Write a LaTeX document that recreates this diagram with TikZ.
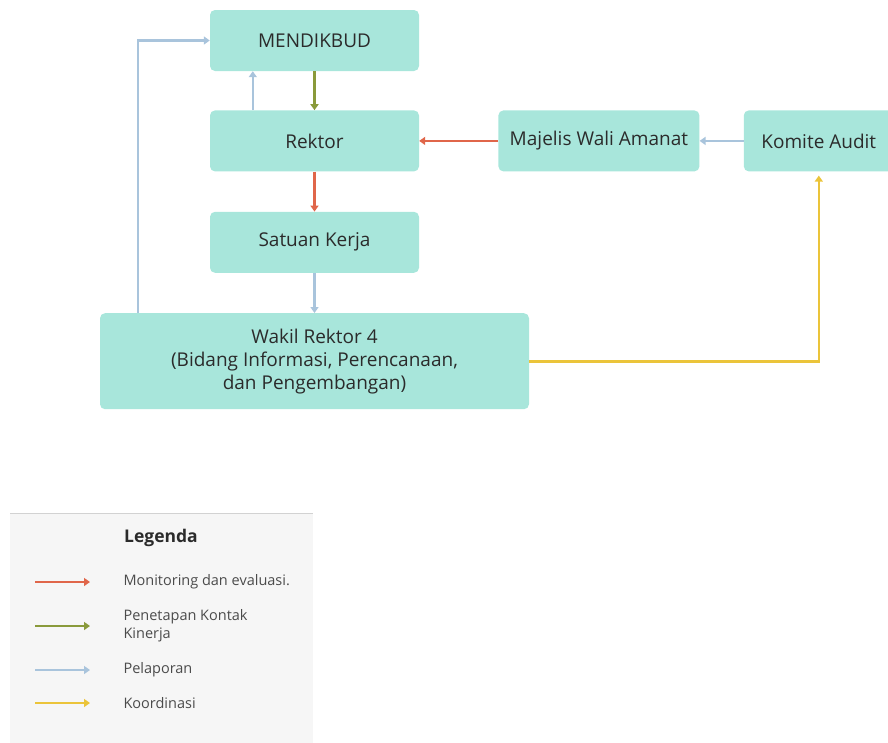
\documentclass[tikz,border=0pt]{standalone}
\usepackage{fontspec}
\setmainfont{Open Sans}
\usetikzlibrary{positioning, arrows.meta}
\definecolor{boxteal}{HTML}{A8E6DB}
\definecolor{txtdark}{HTML}{2B2B2B}
\definecolor{monev}{HTML}{E0664A}
\definecolor{kontrak}{HTML}{8A9A3B}
\definecolor{lapor}{HTML}{A9C4DC}
\definecolor{koord}{HTML}{EBC43A}

\begin{document}
\begin{tikzpicture}
		[x=1pt, y=-1pt,
		 unit/.style = {rectangle, rounded corners=5pt, fill=boxteal, text=txtdark, align=center,
		                minimum width=209pt, minimum height=61pt, font=\fontsize{19}{23}\selectfont},
		 flow/.style = {line width=2.6pt, -{Triangle[length=6pt, width=8pt]}},
		 legtext/.style = {anchor=west, align=left, text=txtdark!85, font=\fontsize{14.5}{18}\selectfont}]
		\useasboundingbox (0,0) rectangle (888,742);
		\node[unit] (mendik) at (314.5,40.5) {MENDIKBUD};
		\node[unit, below=39pt of mendik] (rektor) {Rektor};
		\node[unit, below=40pt of rektor] (satker) {Satuan Kerja};
		\node[unit, below=40pt of satker, minimum width=429pt, minimum height=96pt] (wakil)
			{Wakil Rektor 4\\(Bidang Informasi, Perencanaan,\\dan Pengembangan)};
		\node[unit, right=79pt of rektor, minimum width=201pt] (mwa) {Majelis Wali Amanat};
		\node[unit, right=44pt of mwa, minimum width=150pt] (komite) {Komite Audit};

		\draw[flow, kontrak] (mendik.south) -- (rektor.north);
		\draw[flow, lapor] ([xshift=43pt]rektor.north west) -- ([xshift=43pt]mendik.south west);
		\draw[flow, monev] (mwa.west) -- (rektor.east);
		\draw[flow, lapor] (komite.west) -- (mwa.east);
		\draw[flow, monev] (rektor.south) -- (satker.north);
		\draw[flow, lapor] (satker.south) -- (wakil.north);
		\draw[flow, lapor] ([xshift=38pt]wakil.north west) |- (mendik.west);
		\draw[flow, koord] (wakil.east) -| ([yshift=-4pt]komite.south);

		% legenda
		\fill[gray!7] (10,513) rectangle (313,750);
		\draw[gray!35, line width=1pt] (10,513) -- (313,513);
		\node[text=txtdark, font=\fontsize{17.5}{20}\selectfont\bfseries] (legend) at (161,538) {Legenda};
		\node[legtext] (lmonev) at (120,582) {Monitoring dan evaluasi.};
		\node[legtext] (lkontrak) at (120,626) {Penetapan Kontak\\Kinerja};
		\node[legtext] (llapor) at (120,670) {Pelaporan};
		\node[legtext] (lkoord) at (120,703) {Koordinasi};
		\draw[flow, monev] ([xshift=-85pt]lmonev.west) -- ([xshift=-30pt]lmonev.west);
		\draw[flow, kontrak] ([xshift=-85pt]lkontrak.west) -- ([xshift=-30pt]lkontrak.west);
		\draw[flow, lapor] ([xshift=-85pt]llapor.west) -- ([xshift=-30pt]llapor.west);
		\draw[flow, koord] ([xshift=-85pt]lkoord.west) -- ([xshift=-30pt]lkoord.west);
	\end{tikzpicture}
\end{document}
